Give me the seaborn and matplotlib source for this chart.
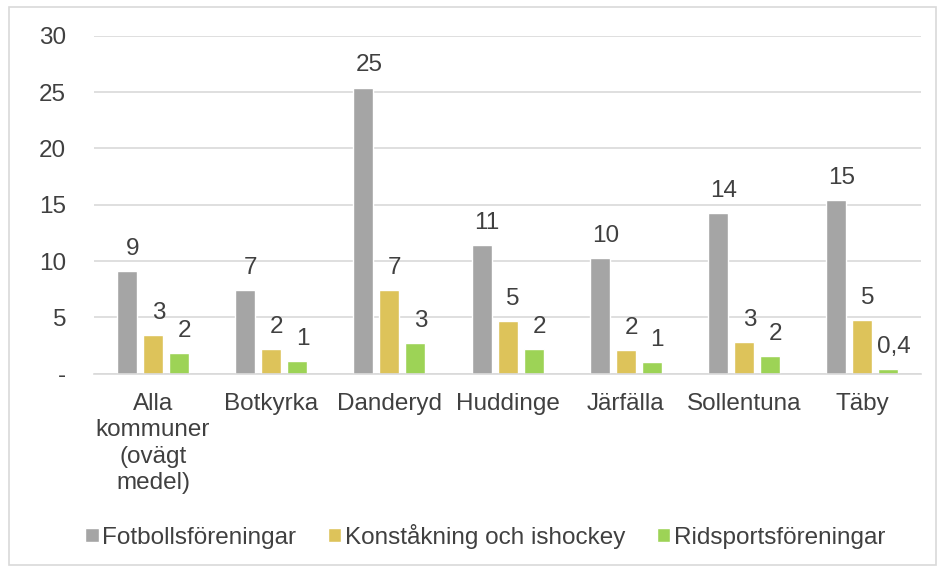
import matplotlib
matplotlib.use("Agg")
import matplotlib.pyplot as plt
import numpy as np
import pandas as pd
import seaborn as sns
from matplotlib.patches import Rectangle

categories = ["Alla\nkommuner\n(ovägt\nmedel)", "Botkyrka", "Danderyd", "Huddinge",
              "Järfälla", "Sollentuna", "Täby"]
series = ["Fotbollsföreningar", "Konståkning och ishockey", "Ridsportsföreningar"]
fotboll = [9.1, 7.4, 25.4, 11.4, 10.3, 14.3, 15.4]
konst = [3.4, 2.2, 7.4, 4.7, 2.1, 2.8, 4.8]
rid = [1.8, 1.1, 2.7, 2.2, 1.0, 1.6, 0.4]
colors = ["#A5A5A5", "#DDC35A", "#9DD356"]

df = pd.DataFrame({
    "kommun": categories * 3,
    "serie": [s for s in series for _ in categories],
    "värde": fotboll + konst + rid,
})

sns.set_theme(style="white")
plt.rcParams["font.family"] = ["Liberation Sans", "DejaVu Sans"]
text_color = "#404040"
fs = 17.5

fig = plt.figure(figsize=(9.39, 5.68), dpi=100)
ax = fig.add_axes([0.100, 0.342, 0.881, 0.595])

sns.barplot(data=df, x="kommun", y="värde", hue="serie", palette=colors,
            width=0.66, gap=0.23, saturation=1, ax=ax, legend=True)

# data labels, slightly right of bar centre like the original
for container in ax.containers:
    for bar, v in zip(container, container.datavalues):
        txt = "0,4" if v < 0.5 else f"{v:.0f}"
        ax.annotate(txt, (bar.get_x() + bar.get_width() / 2, v),
                    xytext=(4, 8), textcoords="offset points",
                    ha="center", va="bottom", fontsize=fs, color=text_color)

ax.set_ylim(0, 30)
ax.set_yticks(range(0, 31, 5))
ax.set_yticklabels(["-"] + [str(t) for t in range(5, 31, 5)])
ax.yaxis.grid(True, color="#D9D9D9", linewidth=1.2)
ax.set_axisbelow(True)
for side in ["top", "right", "left"]:
    ax.spines[side].set_visible(False)
ax.spines["bottom"].set_color("#D9D9D9")
ax.spines["bottom"].set_linewidth(1.2)
ax.tick_params(axis="both", length=0, labelsize=fs, colors=text_color)
ax.tick_params(axis="x", pad=14)
ax.tick_params(axis="y", pad=20)
ax.set_xlabel("")
ax.set_ylabel("")
for lab in ax.get_xticklabels():
    lab.set_linespacing(1.25)

handles, labels = ax.get_legend_handles_labels()
ax.legend_.remove()
fig.legend(handles, labels, loc="center", bbox_to_anchor=(0.517, 0.056), ncol=3,
           frameon=False, fontsize=fs, handlelength=0.55, handleheight=0.55,
           handletextpad=0.15, columnspacing=1.3, labelcolor=text_color)

fig.patches.append(Rectangle((9 / 939, 3 / 568), 927 / 939, 558 / 568,
                             transform=fig.transFigure, fill=False,
                             edgecolor="#D9D9D9", linewidth=1.2))

fig.savefig("out.png", dpi=100)
